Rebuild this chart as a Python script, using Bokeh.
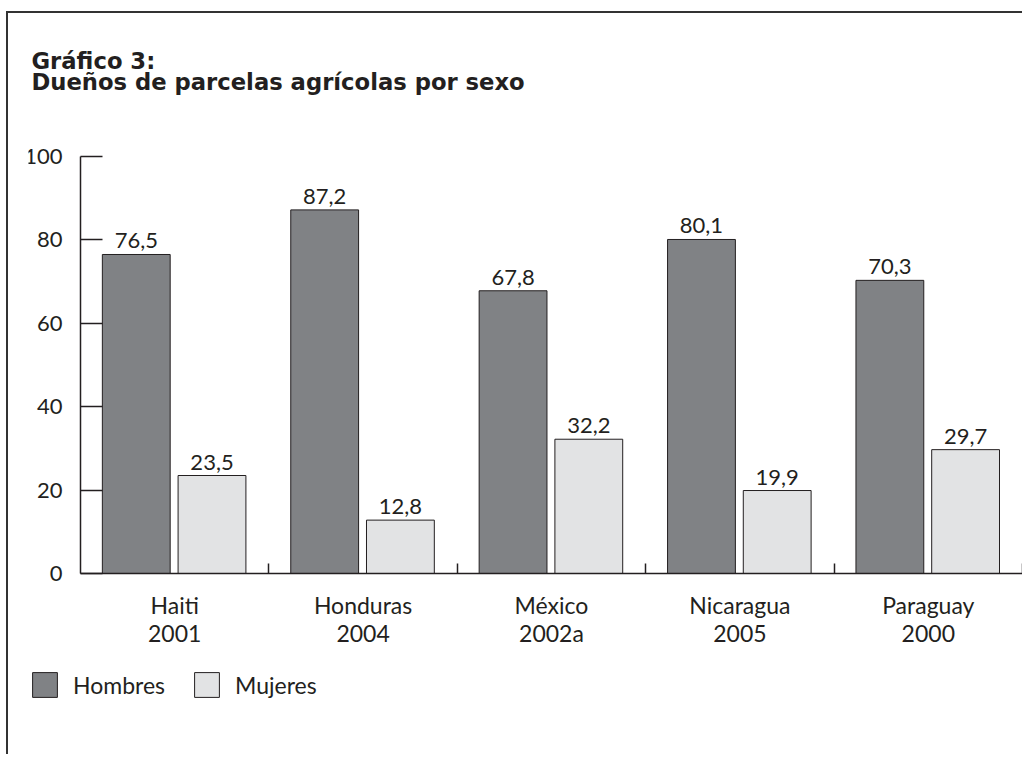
from bokeh.plotting import figure
from bokeh.models import ColumnDataSource, FixedTicker, Legend, LegendItem, Range1d
from bokeh.embed import file_html
from bokeh.resources import INLINE
from bokeh.core.properties import value

# ---- data ----
countries = ["Haiti", "Honduras", "México", "Nicaragua", "Paraguay"]
years = ["2001", "2004", "2002a", "2005", "2000"]
hombres = [76.5, 87.2, 67.8, 80.1, 70.3]
mujeres = [23.5, 12.8, 32.2, 19.9, 29.7]
y_ticks = [0, 20, 40, 60, 80, 100]
series_names = ["Hombres", "Mujeres"]
title_text = "Gráfico 3:\nDueños de parcelas agrícolas por sexo"

# ---- style / layout (pixels) ----
INK = "#231f20"
C_H = "#808285"
C_M = "#e2e3e4"
FONT = "Lato"
FS = "22px"
FS_T = "23px"

W, H = 1016, 743
FL, FR, FT, FB = 20, 1014, 110, 700      # frame edges in figure pixels
AX_X, AX_Y, TOP_Y = 72, 560, 143         # axis positions / top tick (figure pixels)
n = len(countries)
ymax = y_ticks[-1]
ux = (FR - AX_X) / n                     # px per category
uy = (AX_Y - TOP_Y) / ymax               # px per unit
x_range = Range1d(-(AX_X - FL) / ux, n)
y_range = Range1d(-(FB - AX_Y) / uy, ymax + (TOP_Y - FT) / uy)

idx = list(range(n))
def fmt(v):
    return f"{v:.1f}".replace(".", ",")

src_h = ColumnDataSource(dict(x=[i + 0.296 for i in idx], top=hombres,
                              lab=[fmt(v) for v in hombres]))
src_m = ColumnDataSource(dict(x=[i + 0.698 for i in idx], top=mujeres,
                              lab=[fmt(v) for v in mujeres]))

p = figure(width=W, height=H, output_backend="svg", toolbar_location=None,
           x_range=x_range, y_range=y_range,
           min_border_left=FL, min_border_right=W - FR, min_border_top=FT,
           min_border_bottom=H - FB)
p.styles = {"margin-left": "6px", "margin-top": "11px",
            "border-top": "2px solid #333333", "border-left": "2px solid #333333"}
p.xgrid.visible = False
p.ygrid.visible = False
p.outline_line_color = None
p.background_fill_color = "white"
p.border_fill_color = "white"

rh = p.vbar(x="x", top="top", width=0.36, source=src_h, fill_color=C_H,
            line_color=INK, line_width=1)
rm = p.vbar(x="x", top="top", width=0.36, source=src_m, fill_color=C_M,
            line_color=INK, line_width=1)

for s in (src_h, src_m):
    p.text(x="x", y="top", text="lab", source=s, text_align="center",
           text_baseline="bottom", y_offset=-6, text_font=value(FONT),
           text_font_size=FS, text_color=INK)

# y axis
ya = p.yaxis[0]
ya.fixed_location = 0
ya.bounds = (0, ymax)
ya.ticker = FixedTicker(ticks=y_ticks)
ya.major_tick_in = 22
ya.major_tick_out = 0
ya.minor_tick_line_color = None
ya.major_tick_line_width = 1.5
ya.major_tick_line_color = INK
ya.axis_line_width = 1.5
ya.axis_line_color = INK
ya.major_label_standoff = 18
ya.major_label_text_font = FONT
ya.major_label_text_font_size = FS
ya.major_label_text_color = INK
ya.major_label_text_baseline = "top"

# x axis
xa = p.xaxis[0]
xa.fixed_location = 0
xa.bounds = (0, n)
centers = [i + 0.5 for i in idx]
xa.ticker = FixedTicker(ticks=centers, minor_ticks=[i + 1 for i in idx])
xa.major_label_overrides = {c: f"{nm}\n{yr}" for c, nm, yr in zip(centers, countries, years)}
xa.major_tick_line_color = None
xa.minor_tick_in = 10
xa.minor_tick_out = 0
xa.minor_tick_line_width = 1.5
xa.minor_tick_line_color = INK
xa.axis_line_width = 1.5
xa.axis_line_color = INK
xa.major_label_standoff = 11
xa.major_label_text_font = FONT
xa.major_label_text_font_size = FS_T
xa.major_label_text_color = INK
xa.major_label_text_line_height = 1.0

# title
p.title.text = title_text
p.title.align = "left"
p.title.offset = 3
p.title.text_font = "DejaVu Sans"
p.title.text_font_style = "bold"
p.title.text_font_size = "22.7px"
p.title.text_color = INK
p.title.text_line_height = 0.82
p.title.standoff = 56

legend = Legend(items=[LegendItem(label=series_names[0], renderers=[rh]),
                       LegendItem(label=series_names[1], renderers=[rm])],
                location=(1, 13), orientation="horizontal",
                glyph_width=31, glyph_height=31, label_standoff=13, spacing=26,
                padding=0, margin=0, border_line_color=None,
                background_fill_alpha=0,
                label_text_font=FONT, label_text_font_size=FS_T,
                label_text_color=INK)
p.add_layout(legend, "center")

open("out.html", "w").write(file_html(p, INLINE))
